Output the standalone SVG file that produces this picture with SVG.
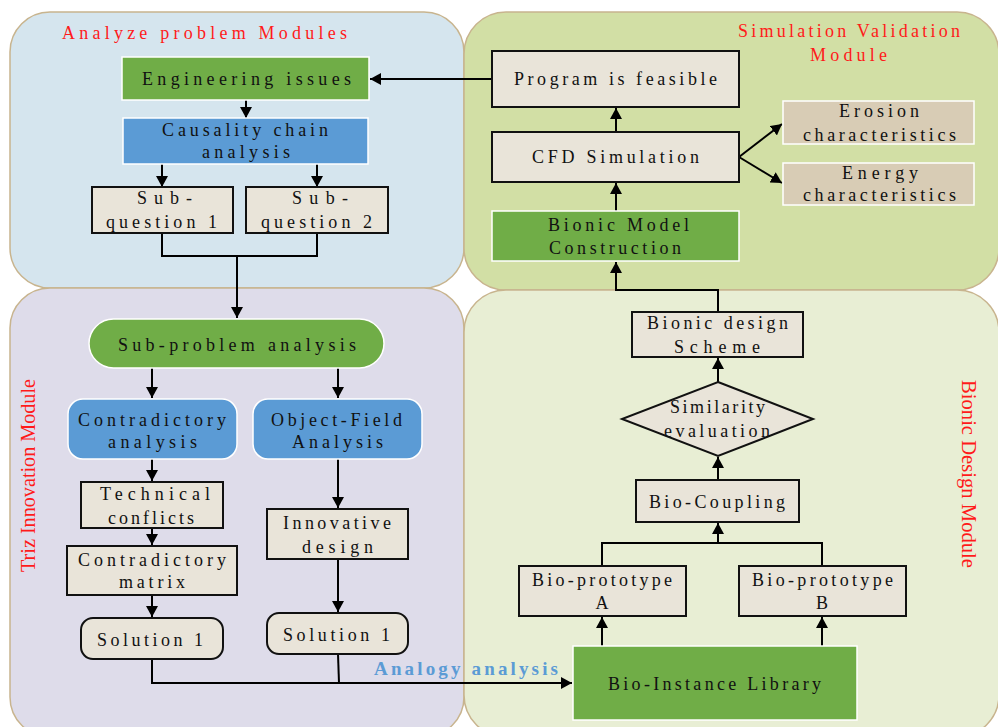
<svg xmlns="http://www.w3.org/2000/svg" width="998" height="727" viewBox="0 0 998 727">
<style>
.panel{stroke:#C8B48E;stroke-width:1.5}
.green{fill:#70AD47;stroke:#FFFFFF;stroke-width:1.5}
.blue{fill:#5B9BD5;stroke:#FFFFFF;stroke-width:1.5}
.beige{fill:#E9E4D9;stroke:#111;stroke-width:2}
.tan{fill:#D8CCB5;stroke:#FFFFFF;stroke-width:1.5}
.t{font-family:"Liberation Serif","Times New Roman",serif;font-size:18px;fill:#111}
.title{font-family:"Liberation Serif","Times New Roman",serif;font-size:18px;fill:#FF1A1A}
.vt{font-family:"Liberation Serif","Times New Roman",serif;font-size:21px;fill:#FF1A1A}
.ana{font-family:"Liberation Serif","Times New Roman",serif;font-size:19px;font-weight:bold;fill:#5B9BD5}
.c{fill:none;stroke:#000;stroke-width:2}
.ar{marker-end:url(#ah)}
</style>
<defs>
<marker id="ah" markerUnits="userSpaceOnUse" markerWidth="12" markerHeight="12" refX="11" refY="6" orient="auto">
<path d="M0,0 L11,6 L0,12 z" fill="#000"/>
</marker>
</defs>

<g id="panels">
<rect id="panel-analyze" class="panel" x="10" y="12" width="454" height="276" rx="40" fill="#D5E5EE"/>
<rect id="panel-simulation" class="panel" x="464" y="12" width="535" height="278" rx="42" fill="#D2DFA5"/>
<rect id="panel-triz" class="panel" x="10" y="288" width="454" height="449" rx="40" fill="#DEDCEA"/>
<rect id="panel-bionic" class="panel" x="464" y="290" width="535" height="447" rx="42" fill="#E8EED4"/>
<text class="title" x="62" y="39" textLength="285" lengthAdjust="spacing">Analyze problem Modules</text>
<text class="title" x="738" y="37" textLength="222" lengthAdjust="spacing">Simulation Validation</text>
<text class="title" x="810" y="61" textLength="77" lengthAdjust="spacing">Module</text>
<text class="vt" transform="translate(35,476) rotate(-90)" x="-96" y="0" textLength="193" lengthAdjust="spacingAndGlyphs">Triz Innovation Module</text>
<text class="vt" transform="translate(962,474) rotate(90)" x="-94" y="0" textLength="188" lengthAdjust="spacingAndGlyphs">Bionic Design Module</text>
</g>

<g id="connectors">
<line class="c ar" x1="492" y1="79" x2="370" y2="79"/>
<line class="c ar" x1="246" y1="100" x2="246" y2="118"/>
<line class="c ar" x1="162" y1="164" x2="162" y2="187"/>
<line class="c ar" x1="317" y1="164" x2="317" y2="187"/>
<polyline class="c" points="162,233 162,256 317,256 317,233"/>
<line class="c ar" x1="237" y1="256" x2="237" y2="318"/>
<line class="c ar" x1="152" y1="368" x2="152" y2="398"/>
<line class="c ar" x1="338" y1="368" x2="338" y2="398"/>
<line class="c ar" x1="152" y1="459" x2="152" y2="481"/>
<line class="c ar" x1="152" y1="528" x2="152" y2="545"/>
<line class="c ar" x1="152" y1="595" x2="152" y2="617"/>
<line class="c ar" x1="338" y1="459" x2="338" y2="508"/>
<line class="c ar" x1="338" y1="559" x2="338" y2="612"/>
<polyline class="c ar" points="152,659 152,683 572,683"/>
<line class="c" x1="338" y1="654" x2="339" y2="683"/>
<line class="c ar" x1="602" y1="646" x2="602" y2="617"/>
<line class="c ar" x1="822" y1="646" x2="822" y2="617"/>
<polyline class="c" points="602,566 602,543 822,543 822,566"/>
<line class="c ar" x1="718" y1="543" x2="718" y2="523"/>
<line class="c ar" x1="718" y1="480" x2="718" y2="457"/>
<line class="c ar" x1="718" y1="382" x2="718" y2="358"/>
<polyline class="c ar" points="718,312 718,290 616,290 616,262"/>
<line class="c ar" x1="616" y1="211" x2="616" y2="183"/>
<line class="c ar" x1="616" y1="132" x2="616" y2="108"/>
<line class="c ar" x1="739" y1="157" x2="782" y2="124"/>
<line class="c ar" x1="739" y1="157" x2="782" y2="183"/>
</g>

<g id="engineering-issues">
<rect class="green" x="122" y="57" width="247" height="43"/>
<text class="t" x="142" y="85" textLength="209" lengthAdjust="spacing">Engineering issues</text>
</g>
<g id="causality-chain">
<rect class="blue" x="123" y="118" width="245" height="46"/>
<text class="t" x="162" y="136" textLength="166" lengthAdjust="spacing">Causality chain</text>
<text class="t" x="202" y="158" textLength="88" lengthAdjust="spacing">analysis</text>
</g>
<g id="sub-question-1">
<rect class="beige" x="92" y="187" width="141" height="46"/>
<text class="t" x="137" y="204" textLength="55" lengthAdjust="spacing">Sub-</text>
<text class="t" x="106" y="228" textLength="111" lengthAdjust="spacing">question 1</text>
</g>
<g id="sub-question-2">
<rect class="beige" x="246" y="187" width="142" height="46"/>
<text class="t" x="292" y="204" textLength="56" lengthAdjust="spacing">Sub-</text>
<text class="t" x="261" y="228" textLength="111" lengthAdjust="spacing">question 2</text>
</g>

<g id="program-feasible">
<rect class="beige" x="492" y="51" width="247" height="56"/>
<text class="t" x="514" y="85" textLength="203" lengthAdjust="spacing">Program is feasible</text>
</g>
<g id="cfd-simulation">
<rect class="beige" x="492" y="132" width="247" height="50"/>
<text class="t" x="532" y="163" textLength="167" lengthAdjust="spacing">CFD Simulation</text>
</g>
<g id="bionic-model">
<rect class="green" x="492" y="211" width="247" height="50"/>
<text class="t" x="548" y="231" textLength="141" lengthAdjust="spacing">Bionic Model</text>
<text class="t" x="549" y="254" textLength="132" lengthAdjust="spacing">Construction</text>
</g>
<g id="erosion">
<rect class="tan" x="783" y="101" width="191" height="43"/>
<text class="t" x="839" y="117" textLength="80" lengthAdjust="spacing">Erosion</text>
<text class="t" x="803" y="141" textLength="153" lengthAdjust="spacing">characteristics</text>
</g>
<g id="energy">
<rect class="tan" x="783" y="163" width="191" height="42"/>
<text class="t" x="842" y="179" textLength="76" lengthAdjust="spacing">Energy</text>
<text class="t" x="803" y="201" textLength="153" lengthAdjust="spacing">characteristics</text>
</g>

<g id="sub-problem">
<rect class="green" x="89" y="319" width="295" height="49" rx="24.5"/>
<text class="t" x="118" y="351" textLength="238" lengthAdjust="spacing">Sub-problem analysis</text>
</g>
<g id="contradictory-analysis">
<rect class="blue" x="68" y="399" width="169" height="60" rx="15"/>
<text class="t" x="78" y="426" textLength="148" lengthAdjust="spacing">Contradictory</text>
<text class="t" x="108" y="448" textLength="89" lengthAdjust="spacing">analysis</text>
</g>
<g id="object-field">
<rect class="blue" x="253" y="399" width="169" height="60" rx="15"/>
<text class="t" x="271" y="426" textLength="131" lengthAdjust="spacing">Object-Field</text>
<text class="t" x="292" y="448" textLength="91" lengthAdjust="spacing">Analysis</text>
</g>
<g id="technical-conflicts">
<rect class="beige" x="81" y="482" width="142" height="46"/>
<text class="t" x="100" y="500" textLength="110" lengthAdjust="spacing">Technical</text>
<text class="t" x="108" y="524" textLength="86" lengthAdjust="spacing">conflicts</text>
</g>
<g id="contradictory-matrix">
<rect class="beige" x="67" y="546" width="170" height="49"/>
<text class="t" x="78" y="566" textLength="148" lengthAdjust="spacing">Contradictory</text>
<text class="t" x="119" y="588" textLength="66" lengthAdjust="spacing">matrix</text>
</g>
<g id="solution-left">
<rect class="beige" x="81" y="618" width="142" height="41" rx="12"/>
<text class="t" x="97" y="646" textLength="106" lengthAdjust="spacing">Solution 1</text>
</g>
<g id="innovative-design">
<rect class="beige" x="267" y="509" width="141" height="50"/>
<text class="t" x="283" y="529" textLength="108" lengthAdjust="spacing">Innovative</text>
<text class="t" x="302" y="553" textLength="71" lengthAdjust="spacing">design</text>
</g>
<g id="solution-right">
<rect class="beige" x="267" y="613" width="141" height="41" rx="12"/>
<text class="t" x="283" y="641" textLength="107" lengthAdjust="spacing">Solution 1</text>
</g>

<g id="bionic-scheme">
<rect class="beige" x="632" y="312" width="171" height="45"/>
<text class="t" x="647" y="329" textLength="141" lengthAdjust="spacing">Bionic design</text>
<text class="t" x="674" y="353" textLength="86" lengthAdjust="spacing">Scheme</text>
</g>
<g id="similarity">
<polygon points="718,382 813,419 718,456 622,419" fill="#E9E4D9" stroke="#111" stroke-width="2"/>
<text class="t" x="670" y="413" textLength="95" lengthAdjust="spacing">Similarity</text>
<text class="t" x="664" y="437" textLength="106" lengthAdjust="spacing">evaluation</text>
</g>
<g id="bio-coupling">
<rect class="beige" x="636" y="480" width="163" height="42"/>
<text class="t" x="649" y="508" textLength="136" lengthAdjust="spacing">Bio-Coupling</text>
</g>
<g id="bio-prototype-a">
<rect class="beige" x="519" y="566" width="167" height="50"/>
<text class="t" x="532" y="586" textLength="140" lengthAdjust="spacing">Bio-prototype</text>
<text class="t" x="602" y="609" text-anchor="middle">A</text>
</g>
<g id="bio-prototype-b">
<rect class="beige" x="739" y="566" width="167" height="50"/>
<text class="t" x="752" y="586" textLength="141" lengthAdjust="spacing">Bio-prototype</text>
<text class="t" x="822" y="609" text-anchor="middle">B</text>
</g>
<g id="bio-instance-library">
<rect class="green" x="573" y="646" width="284" height="74"/>
<text class="t" x="608" y="690" textLength="213" lengthAdjust="spacing">Bio-Instance Library</text>
</g>

<g id="analogy-label">
<text class="ana" x="374" y="675" textLength="184" lengthAdjust="spacing">Analogy analysis</text>
</g>
</svg>
